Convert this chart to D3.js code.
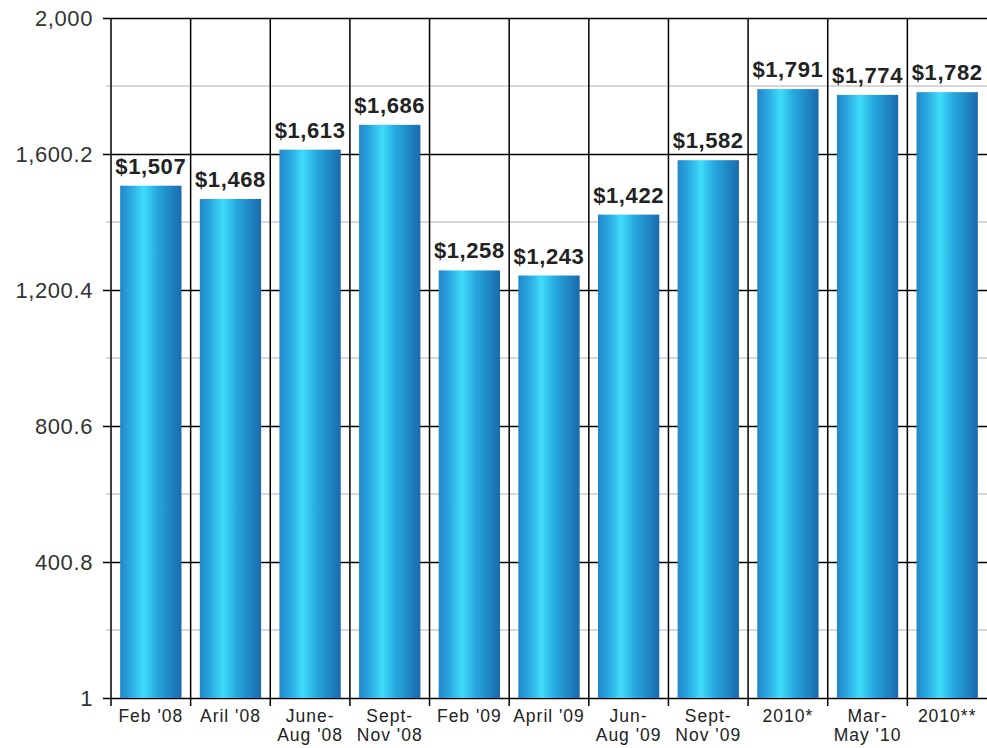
<!DOCTYPE html>
<html><head><meta charset="utf-8">
<script src="https://cdn.jsdelivr.net/npm/d3@7"></script>
<style>body{margin:0;background:#fff}svg{display:block}</style>
</head><body>
<script>
const categories = [["Feb '08"],["Aril '08"],["June-","Aug '08"],["Sept-","Nov '08"],["Feb '09"],["April '09"],["Jun-","Aug '09"],["Sept-","Nov '09"],["2010*"],["Mar-","May '10"],["2010**"]];
const values = [1507,1468,1613,1686,1258,1243,1422,1582,1791,1774,1782];
const valueLabels = ["$1,507","$1,468","$1,613","$1,686","$1,258","$1,243","$1,422","$1,582","$1,791","$1,774","$1,782"];
const yTicks = [1,400.8,800.6,1200.4,1600.2,2000];
const yTickLabels = ["1","400.8","800.6","1,200.4","1,600.2","2,000"];
const minorTicks = [200.9,600.7,1000.5,1400.3,1800.1];

const W=987,H=748;
const svg=d3.select("body").append("svg").attr("width",W).attr("height",H);
const defs=svg.append("defs");
const g=defs.append("linearGradient").attr("id","bg").attr("x1","0").attr("x2","1").attr("y1","0").attr("y2","0");
[[0,"#2387c8"],[0.15,"#28a3dd"],[0.38,"#3fdcfb"],[0.6,"#25a8de"],[1,"#1a6aad"]].forEach(s=>g.append("stop").attr("offset",s[0]).attr("stop-color",s[1]));

const x=d3.scaleBand().domain(d3.range(categories.length)).range([111,987]).paddingInner(0.23).paddingOuter(0.115);
const y=d3.scaleLinear().domain([1,2000]).range([698,18]);
const step=x.step();
const x0=111;

// minor gridlines
svg.append("g").selectAll("line").data(minorTicks).join("line")
 .attr("x1",106).attr("x2",W).attr("y1",d=>y(d)).attr("y2",d=>y(d))
 .attr("stroke","#b0b0b0").attr("stroke-width",1);

// major gridlines via axis
const yAxis=d3.axisLeft(y).tickValues(yTicks).tickFormat((d,i)=>yTickLabels[i]).tickSize(-(W-x0)).tickPadding(0).tickSizeOuter(0);
const ya=svg.append("g").attr("transform",`translate(${x0},0)`).call(yAxis);
ya.select(".domain").remove();
ya.selectAll(".tick line").attr("x1",-8).attr("stroke","#000").attr("stroke-width",1.5);
ya.selectAll(".tick text").attr("x",-18).attr("fill","#333").style("font-family","Liberation Sans, Arial, sans-serif").style("font-size","22px").style("letter-spacing","0.6px").attr("dy","0.36em");

// vertical boundaries
const bounds=d3.range(categories.length).map(i=>x0+i*step);
svg.append("g").selectAll("line").data(bounds).join("line")
 .attr("x1",d=>d).attr("x2",d=>d).attr("y1",18).attr("y2",706)
 .attr("stroke","#000").attr("stroke-width",1.5);

// bars (over gridlines)
svg.append("g").selectAll("rect").data(values).join("rect")
 .attr("x",(d,i)=>x(i)).attr("width",x.bandwidth())
 .attr("y",d=>y(d)).attr("height",d=>y(1)-y(d)).attr("fill","url(#bg)");

// value labels
svg.append("g").selectAll("text").data(values).join("text")
 .attr("x",(d,i)=>x0+(i+0.5)*step).attr("y",d=>y(d)-12)
 .attr("text-anchor","middle").attr("fill","#222")
 .style("font-family","Liberation Sans, Arial, sans-serif").style("font-weight","bold").style("font-size","22px").style("letter-spacing","0.6px")
 .text((d,i)=>valueLabels[i]);

// x labels
const xl=svg.append("g").selectAll("text").data(categories).join("text")
 .attr("x",(d,i)=>x0+(i+0.5)*step).attr("y",722)
 .attr("text-anchor","middle").attr("fill","#222")
 .style("font-family","Liberation Sans, Arial, sans-serif").style("font-size","17.5px").style("letter-spacing","1px");
xl.selectAll("tspan").data(d=>d).join("tspan")
 .attr("x",function(){return this.parentNode.getAttribute("x");})
 .attr("dy",(d,i)=>i===0?0:19).text(d=>d);
</script>
</body></html>
